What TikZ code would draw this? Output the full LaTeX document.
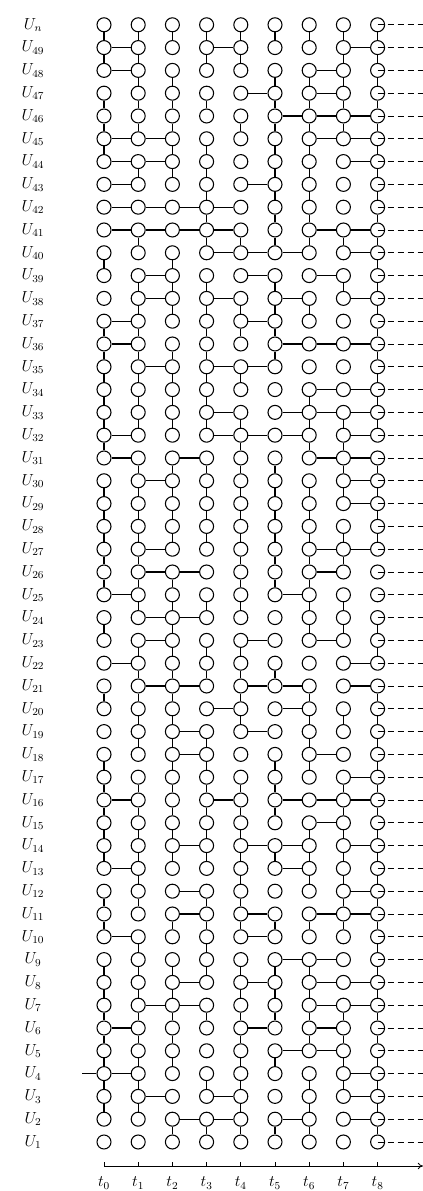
\documentclass[tikz,border=0pt]{standalone}
\usetikzlibrary{arrows.meta}
\begin{document}
\begin{tikzpicture}[x=0.75pt,y=0.75pt,
  nd/.style={circle,draw,line width=0.8pt,minimum size=10.5pt,inner sep=0pt},
  ln/.style={line width=0.8pt},
  dsh/.style={line width=0.6pt,dash pattern=on 4.5pt off 3pt},
  lbl/.style={font=\large,inner sep=0pt}]
\useasboundingbox (0,0) rectangle (423,1191);
% nodes
\foreach \k in {1,...,50}{
  \foreach \c in {0,...,8}{
    \node[nd] (n-\k-\c) at ({104+34.2*\c},{49+22.8*(\k-1)}) {};
  }
  \coordinate (e\k) at (423,{49+22.8*(\k-1)});
  \draw[dsh] (n-\k-8.center) -- (e\k);
}
% labels
\foreach \k in {1,...,49}{
  \node[lbl] (lab\k) at (33,{49+22.8*(\k-1)}) {$U_{\k}$};
}
\node[lbl] (labn) at (33,{49+22.8*49}) {$U_n$};
% input line
\coordinate (in4) at (82,{49+22.8*3});
\draw[ln] (in4) -- (n-4-0);
% horizontal edges
\foreach \k/\c [evaluate=\c as \d using int(\c+1)] in {
49/0,49/3,49/7, 48/0,48/6, 47/4,47/6, 46/5,46/6,46/7, 45/0,45/1,45/6,45/7,
44/0,44/1,44/7, 43/0,43/4, 42/0,42/1,42/2,42/3, 41/0,41/1,41/2,41/3,41/6,41/7,
40/3,40/4,40/5,40/7, 39/1,39/4,39/6, 38/1,38/3,38/5,38/7, 37/0,37/4,
36/0,36/5,36/6,36/7, 35/1,35/3,35/4, 34/6,34/7, 33/3,33/5,33/6,33/7,
32/0,32/3,32/4,32/5,32/7, 31/0,31/2,31/6,31/7, 30/1,30/7, 29/7,
27/1,27/6,27/7, 26/1,26/2,26/6, 25/0,25/5, 24/1,24/2, 23/1,23/4,23/6,
22/0,22/7, 21/1,21/2,21/4,21/5,21/7, 20/3,20/5, 19/2,19/4, 18/2,18/6,
17/7, 16/0,16/3,16/5,16/6,16/7, 15/6, 14/2,14/4,14/5,14/7, 13/0,13/5,
12/2,12/7, 11/2,11/4,11/6,11/7, 10/0,10/4, 9/5,9/6, 8/2,8/4,8/6,8/7,
7/1,7/2,7/6,7/7, 6/0,6/4,6/6, 5/5,5/6, 4/0,4/7, 3/1,3/3,3/7,
2/2,2/3,2/5,2/7}{
  \draw[ln] (n-\k-\c) -- (n-\k-\d);
}
% vertical edges (row k to row k-1)
\foreach \k/\c [evaluate=\k as \j using int(\k-1)] in {
50/0,50/1,50/2,50/3,50/4,50/5,50/6,50/7,50/8,
49/0,49/1,49/3,49/4,49/7,49/8,
48/1,48/2,48/5,48/6,48/7,48/8,
47/0,47/1,47/2,47/3,47/5,47/6,47/7,47/8,
46/0,46/1,46/2,46/4,46/5,46/6,46/7,46/8,
45/0,45/2,45/3,45/5,45/6,45/8,
44/1,44/2,44/3,44/5,44/6,44/8,
43/3,43/5,43/6,43/8,
42/3,42/5,42/6,42/8,
41/1,41/3,41/4,41/5,41/6,41/7,41/8,
40/0,40/2,40/8,
39/1,39/2,39/3,39/5,39/7,39/8,
38/1,38/2,38/3,38/4,38/5,38/6,38/8,
37/0,37/1,37/3,37/4,37/5,37/8,
36/0,36/1,36/2,36/3,36/5,36/8,
35/0,35/1,35/2,35/3,35/4,35/8,
34/0,34/1,34/2,34/3,34/6,34/8,
33/0,33/1,33/2,33/3,33/4,33/6,33/7,33/8,
32/0,32/4,32/6,32/7,
31/1,31/2,31/3,31/4,31/5,31/7,31/8,
30/0,30/1,30/2,30/3,30/4,30/5,30/6,30/7,30/8,
29/0,29/1,29/2,29/3,29/4,29/5,29/6,29/8,
28/0,28/1,28/2,28/3,28/4,28/5,28/6,28/7,28/8,
27/0,27/1,27/4,27/5,27/6,27/7,
26/0,26/1,26/2,26/4,26/5,26/6,
25/1,25/2,25/3,25/4,25/6,25/7,
24/0,24/2,24/6,24/7,24/8,
23/1,23/2,23/3,23/4,23/8,
22/1,22/2,22/3,22/4,22/5,
21/0,21/1,21/2,21/4,21/6,21/8,
20/1,20/2,20/4,20/6,20/7,20/8,
19/1,19/2,19/3,19/6,19/8,
18/0,18/2,18/3,18/5,18/6,18/8,
17/0,17/1,17/2,17/3,17/4,17/5,17/7,17/8,
16/0,16/1,16/2,16/3,16/4,16/5,16/7,16/8,
15/0,15/1,15/2,15/3,15/4,15/6,15/7,15/8,
14/0,14/1,14/2,14/3,14/4,14/5,14/6,14/7,14/8,
13/1,13/4,13/6,13/7,13/8,
12/0,12/1,12/3,12/4,12/7,12/8,
11/0,11/2,11/3,11/4,11/5,11/6,11/7,11/8,
10/1,10/3,10/8,
9/0,9/1,9/2,9/3,9/4,9/5,9/6,9/8,
8/0,8/1,8/2,8/4,8/5,8/6,8/8,
7/0,7/1,7/2,7/3,7/4,7/5,7/6,7/7,7/8,
6/0,6/1,6/2,6/4,6/6,6/7,6/8,
5/0,5/1,5/2,5/4,5/5,5/7,5/8,
4/0,4/1,4/3,4/4,4/6,4/7,4/8,
3/0,3/1,3/4,3/6,3/8,
2/2,2/3,2/4,2/5,2/6,2/8}{
  \draw[ln] (n-\k-\c) -- (n-\j-\c);
}
% time axis
\coordinate (ax0) at (104,25);
\coordinate (ax1) at (423,25);
\draw[line width=0.6pt,-{To[length=4pt,width=5pt]}] (ax0) -- (ax1);
\foreach \c in {0,...,8}{
  \coordinate (tk\c) at ({104+34.2*\c},25);
  \draw[line width=0.6pt] (tk\c) -- ++(0,4);
  \node[lbl] (t\c) at ({104+34.2*\c},8) {$t_{\c}$};
}
\end{tikzpicture}
\end{document}
